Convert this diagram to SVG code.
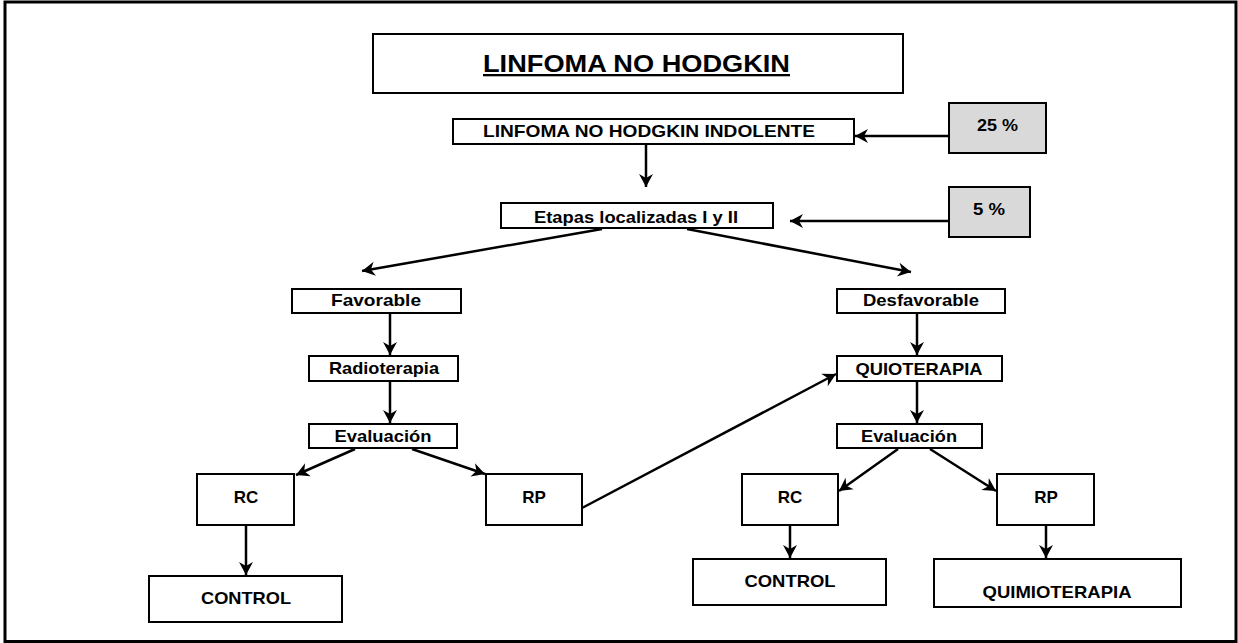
<svg xmlns="http://www.w3.org/2000/svg" width="1238" height="643" viewBox="0 0 1238 643">
<style>
.box{fill:#fff;stroke:#000;stroke-width:2}
.gray{fill:#d9d9d9;stroke:#000;stroke-width:2}
.t{font-family:"Liberation Sans",Arial,Helvetica,sans-serif;font-weight:bold;font-size:17px;fill:#000;text-anchor:middle}
.c line{stroke:#000;stroke-width:2.5;marker-end:url(#ah)}
</style>
<defs>
<marker id="ah" markerUnits="userSpaceOnUse" viewBox="-1 -8 15 16" refX="13" refY="0" markerWidth="15" markerHeight="16" orient="auto">
<path d="M0,-7 L13,0 L0,7 L4,0 z" fill="#000"/>
</marker>
</defs>
<rect x="5" y="2" width="1231" height="639.5" fill="#fff" stroke="#000" stroke-width="3"/>

<g id="title">
<rect class="box" x="373" y="34" width="530" height="59"/>
<text class="t" x="636.5" y="72" style="font-size:23px;text-decoration:underline" textLength="307" lengthAdjust="spacingAndGlyphs">LINFOMA NO HODGKIN</text>
</g>
<g id="indolente">
<rect class="box" x="453" y="119" width="401" height="25"/>
<text class="t" x="649" y="137" style="font-size:16.5px" textLength="332" lengthAdjust="spacingAndGlyphs">LINFOMA NO HODGKIN INDOLENTE</text>
</g>
<g id="p25">
<rect class="gray" x="949" y="103" width="97" height="50"/>
<text class="t" x="997.5" y="131" textLength="41" lengthAdjust="spacingAndGlyphs">25 %</text>
</g>
<g id="p5">
<rect class="gray" x="949" y="187" width="81" height="50"/>
<text class="t" x="989" y="215" textLength="32" lengthAdjust="spacingAndGlyphs">5 %</text>
</g>
<g id="etapas">
<rect class="box" x="501" y="203" width="272" height="25"/>
<text class="t" x="636" y="223" style="font-size:16.5px" textLength="204" lengthAdjust="spacingAndGlyphs">Etapas localizadas I y II</text>
</g>
<g id="favorable">
<rect class="box" x="292" y="289" width="169" height="24"/>
<text class="t" x="376" y="306" textLength="90" lengthAdjust="spacingAndGlyphs">Favorable</text>
</g>
<g id="desfavorable">
<rect class="box" x="837" y="289" width="168" height="24"/>
<text class="t" x="921" y="306" textLength="116" lengthAdjust="spacingAndGlyphs">Desfavorable</text>
</g>
<g id="radioterapia">
<rect class="box" x="309" y="356" width="149" height="25"/>
<text class="t" x="384" y="374" textLength="110" lengthAdjust="spacingAndGlyphs">Radioterapia</text>
</g>
<g id="quioterapia">
<rect class="box" x="837" y="356" width="165" height="25"/>
<text class="t" x="919" y="375" textLength="127" lengthAdjust="spacingAndGlyphs">QUIOTERAPIA</text>
</g>
<g id="eval-left">
<rect class="box" x="309" y="424" width="148" height="24"/>
<text class="t" x="383" y="442" textLength="97" lengthAdjust="spacingAndGlyphs">Evaluación</text>
</g>
<g id="eval-right">
<rect class="box" x="837" y="424" width="145" height="24"/>
<text class="t" x="909" y="442" textLength="96" lengthAdjust="spacingAndGlyphs">Evaluación</text>
</g>
<g id="rc-left">
<rect class="box" x="197" y="474" width="97" height="51"/>
<text class="t" x="246" y="503">RC</text>
</g>
<g id="rp-left">
<rect class="box" x="486" y="474" width="96" height="51"/>
<text class="t" x="534" y="503">RP</text>
</g>
<g id="rc-right">
<rect class="box" x="742" y="474" width="96" height="51"/>
<text class="t" x="790" y="503">RC</text>
</g>
<g id="rp-right">
<rect class="box" x="997" y="474" width="97" height="51"/>
<text class="t" x="1046" y="503">RP</text>
</g>
<g id="control-left">
<rect class="box" x="149" y="576" width="193" height="46"/>
<text class="t" x="246" y="604" textLength="90" lengthAdjust="spacingAndGlyphs">CONTROL</text>
</g>
<g id="control-right">
<rect class="box" x="693" y="559" width="193" height="46"/>
<text class="t" x="790" y="587" textLength="91" lengthAdjust="spacingAndGlyphs">CONTROL</text>
</g>
<g id="quimioterapia">
<rect class="box" x="934" y="559" width="247" height="48"/>
<text class="t" x="1057" y="598" textLength="149" lengthAdjust="spacingAndGlyphs">QUIMIOTERAPIA</text>
</g>

<g id="connectors" class="c">
<line x1="949" y1="136" x2="855" y2="136"/>
<line x1="949" y1="221" x2="790" y2="221"/>
<line x1="646" y1="144" x2="646" y2="187"/>
<line x1="602" y1="229" x2="362" y2="271"/>
<line x1="687" y1="229" x2="911" y2="272"/>
<line x1="390" y1="313" x2="390" y2="355"/>
<line x1="390" y1="381" x2="390" y2="423"/>
<line x1="355" y1="449" x2="296" y2="475"/>
<line x1="412" y1="449" x2="485" y2="474"/>
<line x1="246" y1="525" x2="246" y2="575"/>
<line x1="582" y1="508" x2="836" y2="374"/>
<line x1="917" y1="313" x2="917" y2="355"/>
<line x1="917" y1="381" x2="917" y2="423"/>
<line x1="898" y1="449" x2="839" y2="491"/>
<line x1="930" y1="449" x2="996" y2="491"/>
<line x1="790" y1="525" x2="790" y2="558"/>
<line x1="1046" y1="525" x2="1046" y2="558"/>
</g>
</svg>
